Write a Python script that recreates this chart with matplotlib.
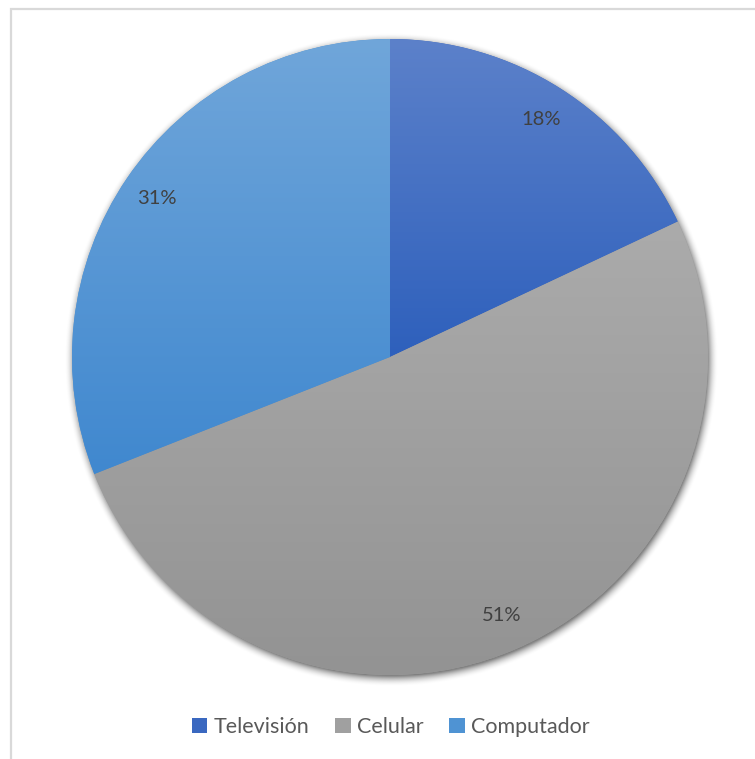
import numpy as np
import matplotlib
matplotlib.use("Agg")
import matplotlib.pyplot as plt
from matplotlib.patches import Patch, Rectangle
from matplotlib.colors import LinearSegmentedColormap, to_rgb

# Device usage shares
categories = ["Televisión", "Celular", "Computador"]
shares = [18, 51, 31]
pct_labels = ["18%", "51%", "31%"]

# Vertical gradient (top, bottom) for each slice
top_colors = ["#5C81CA", "#ABABAB", "#70A6DA"]
bottom_colors = ["#2E60BC", "#939393", "#4088CF"]
legend_colors = ["#3A68C0", "#A0A0A0", "#4F93D3"]

W, H, DPI = 755, 759, 100
fig = plt.figure(figsize=(W / DPI, H / DPI), dpi=DPI)
fig.patch.set_facecolor("white")

# Chart area border (only top and left edges fall inside the canvas)
fig.patches.append(Rectangle((11 / W, -0.05), 1.2, 1 - 9 / H + 0.05,
                             transform=fig.transFigure, fill=False,
                             edgecolor="#D9D9D9", linewidth=1.6, zorder=0))

cx, cy, R = 390, 357, 318
ax = fig.add_axes([(cx - R) / W, (H - cy - R) / H, 2 * R / W, 2 * R / H])

wedges, _, autotexts = ax.pie(
    shares, startangle=90, counterclock=False, radius=1.0,
    colors=legend_colors, autopct=lambda p: "",
    pctdistance=0.885, wedgeprops=dict(linewidth=0),
)
ax.set_aspect("equal")
ax.axis("off")

# Soft shadow around the pie rim
n = 500
ext = 1.07
xs = np.linspace(-ext, ext, n)
X, Y = np.meshgrid(xs, xs)
r = np.hypot(X - 0.003, Y + 0.01)
d = np.clip((r - 0.995) / 0.035, 0, 1)
alpha = np.where(r < 0.995, 0.5, 0.5 * (1 - d) ** 2)
shadow = np.zeros((n, n, 4))
shadow[..., 3] = alpha
ax.imshow(shadow, extent=(-ext, ext, -ext, ext), origin="lower",
          zorder=0.5, clip_on=False, interpolation="bilinear")

# Gradient fill clipped to each wedge
for w, ct, cb in zip(wedges, top_colors, bottom_colors):
    w.set_zorder(1)
    path = w.get_path()
    verts = w.get_patch_transform().transform(path.vertices)
    ymin, ymax = verts[:, 1].min(), verts[:, 1].max()
    cmap = LinearSegmentedColormap.from_list("g", [to_rgb(cb), to_rgb(ct)])
    grad = np.linspace(0, 1, 256).reshape(-1, 1)
    im = ax.imshow(grad, cmap=cmap, extent=(-1, 1, ymin, ymax),
                   origin="lower", aspect="auto", zorder=2,
                   interpolation="bilinear")
    im.set_clip_path(w)

# Percentage labels
for t, lab in zip(autotexts, pct_labels):
    t.set_text(lab)
    t.set_fontsize(14.5)
    t.set_color("#404040")
    t.set_fontfamily(["Lato", "DejaVu Sans"])
    t.set_zorder(5)

ax.set_xlim(-1, 1)
ax.set_ylim(-1, 1)

handles = [Patch(facecolor=c, edgecolor="none") for c in legend_colors]
leg = fig.legend(handles, categories, loc="center",
                 bbox_to_anchor=(391 / W, 1 - 727 / H), ncol=3,
                 frameon=False, handlelength=0.7,
                 handleheight=0.7, handletextpad=0.3, columnspacing=1.2,
                 prop={"family": ["Lato", "DejaVu Sans"], "size": 15.5})
for t in leg.get_texts():
    t.set_color("#595959")

fig.savefig("out.png", dpi=DPI, facecolor="white")
